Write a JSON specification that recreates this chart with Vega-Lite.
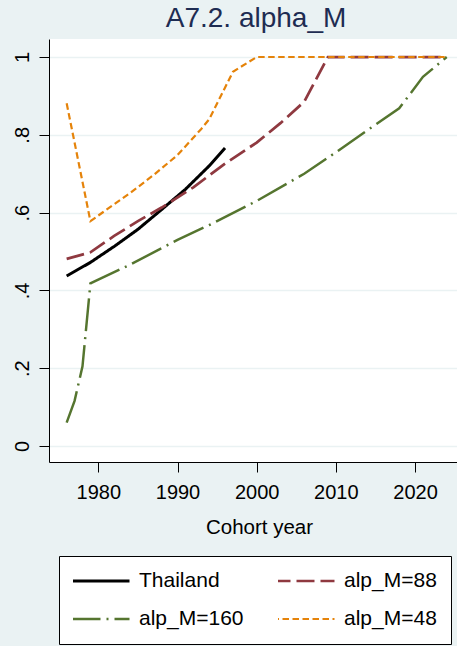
{
  "$schema": "https://vega.github.io/schema/vega-lite/v6.json",
  "width": 408,
  "height": 423,
  "autosize": {"type": "none"},
  "padding": {"left": 49, "top": 39, "right": 0, "bottom": 184},
  "background": "#eaf2f3",
  "title": {"text": "A7.2. alpha_M", "fontSize": 28, "font": "Liberation Sans", "fontWeight": "normal", "color": "#1e2c52", "anchor": "middle", "baseline": "alphabetic", "offset": 10, "dx": 3, "dy": 26},
  "config": {"view": {"fill": "white", "stroke": null}, "font": "Liberation Sans"},
  "data": {"values": [
    {"series": "Thailand", "year": 1976, "v": 0.437},
    {"series": "Thailand", "year": 1979, "v": 0.472},
    {"series": "Thailand", "year": 1982, "v": 0.513},
    {"series": "Thailand", "year": 1985, "v": 0.557},
    {"series": "Thailand", "year": 1988, "v": 0.608},
    {"series": "Thailand", "year": 1991, "v": 0.660},
    {"series": "Thailand", "year": 1994, "v": 0.720},
    {"series": "Thailand", "year": 1996, "v": 0.766},
    {"series": "alp_M=88", "year": 1976, "v": 0.481},
    {"series": "alp_M=88", "year": 1979, "v": 0.498},
    {"series": "alp_M=88", "year": 1982, "v": 0.540},
    {"series": "alp_M=88", "year": 1985, "v": 0.578},
    {"series": "alp_M=88", "year": 1988, "v": 0.613},
    {"series": "alp_M=88", "year": 1992, "v": 0.665},
    {"series": "alp_M=88", "year": 1996, "v": 0.726},
    {"series": "alp_M=88", "year": 2000, "v": 0.780},
    {"series": "alp_M=88", "year": 2003, "v": 0.830},
    {"series": "alp_M=88", "year": 2006, "v": 0.885},
    {"series": "alp_M=88", "year": 2009, "v": 1.0},
    {"series": "alp_M=88", "year": 2015, "v": 1.0},
    {"series": "alp_M=88", "year": 2024, "v": 1.0},
    {"series": "alp_M=160", "year": 1976, "v": 0.060},
    {"series": "alp_M=160", "year": 1977, "v": 0.116},
    {"series": "alp_M=160", "year": 1978, "v": 0.205},
    {"series": "alp_M=160", "year": 1979, "v": 0.418},
    {"series": "alp_M=160", "year": 1984, "v": 0.466},
    {"series": "alp_M=160", "year": 1990, "v": 0.530},
    {"series": "alp_M=160", "year": 1994, "v": 0.568},
    {"series": "alp_M=160", "year": 2000, "v": 0.630},
    {"series": "alp_M=160", "year": 2006, "v": 0.700},
    {"series": "alp_M=160", "year": 2010, "v": 0.755},
    {"series": "alp_M=160", "year": 2014, "v": 0.812},
    {"series": "alp_M=160", "year": 2018, "v": 0.868},
    {"series": "alp_M=160", "year": 2021, "v": 0.949},
    {"series": "alp_M=160", "year": 2024, "v": 1.0},
    {"series": "alp_M=48", "year": 1976, "v": 0.881},
    {"series": "alp_M=48", "year": 1979, "v": 0.578},
    {"series": "alp_M=48", "year": 1981, "v": 0.607},
    {"series": "alp_M=48", "year": 1984, "v": 0.650},
    {"series": "alp_M=48", "year": 1987, "v": 0.697},
    {"series": "alp_M=48", "year": 1990, "v": 0.748},
    {"series": "alp_M=48", "year": 1993, "v": 0.815},
    {"series": "alp_M=48", "year": 1994, "v": 0.840},
    {"series": "alp_M=48", "year": 1997, "v": 0.962},
    {"series": "alp_M=48", "year": 2000, "v": 1.0},
    {"series": "alp_M=48", "year": 2012, "v": 1.0},
    {"series": "alp_M=48", "year": 2024, "v": 1.0}
  ]},
  "mark": {"type": "line"},
  "encoding": {
    "x": {
      "field": "year", "type": "quantitative",
      "scale": {"domain": [1973.77, 2025.3], "nice": false, "zero": false},
      "axis": {
        "values": [1980, 1990, 2000, 2010, 2020], "format": "d", "grid": false,
        "title": "Cohort year", "titleFontSize": 20.5, "titleFontWeight": "normal", "titleColor": "black",
        "titleBaseline": "alphabetic", "titleAlign": "center", "titleY": 71, "titleX": 210,
        "labelFontSize": 20, "labelColor": "black", "labelPadding": 10, "labelFlush": false, "labelOverlap": false,
        "tickSize": 10, "tickColor": "black", "domainColor": "black"
      }
    },
    "y": {
      "field": "v", "type": "quantitative",
      "scale": {"domain": [-0.0411, 1.0463], "nice": false, "zero": false},
      "axis": {
        "values": [0, 0.2, 0.4, 0.6, 0.8, 1],
        "labelExpr": "datum.value == 0 ? '0' : datum.value == 1 ? '1' : '.' + round(datum.value * 10)",
        "grid": true, "gridColor": "#eaf2f3", "gridWidth": 1.5, "title": null,
        "labelAngle": 270, "labelAlign": "center", "labelBaseline": "alphabetic",
        "labelFontSize": 20, "labelColor": "black", "labelPadding": 10.5, "labelFlush": false, "labelOverlap": false,
        "tickSize": 10, "tickColor": "black", "domainColor": "black"
      }
    },
    "color": {
      "field": "series", "type": "nominal",
      "scale": {"domain": ["Thailand", "alp_M=88", "alp_M=160", "alp_M=48"], "range": ["#000000", "#8f3940", "#55752f", "#e5830a"]},
      "legend": {
        "title": null, "orient": "none", "legendX": 10, "legendY": 517, "columns": 2, "direction": "horizontal",
        "symbolType": "stroke", "symbolSize": 3844, "labelFontSize": 21, "labelColor": "black", "labelFont": "Liberation Sans",
        "labelOffset": 8, "symbolOffset": -7, "columnPadding": 34, "rowPadding": 16, "clipHeight": 22, "padding": 14,
        "fillColor": "white", "strokeColor": "black", "labelLimit": 300
      }
    },
    "strokeDash": {
      "field": "series", "type": "nominal",
      "scale": {"domain": ["Thailand", "alp_M=88", "alp_M=160", "alp_M=48"], "range": [[1, 0], [18, 6], [33, 6, 2, 6], [6.5, 3.5]]}
    },
    "strokeWidth": {
      "field": "series", "type": "nominal",
      "scale": {"domain": ["Thailand", "alp_M=88", "alp_M=160", "alp_M=48"], "range": [3, 2.2, 2.2, 2.2]}
    }
  }
}
